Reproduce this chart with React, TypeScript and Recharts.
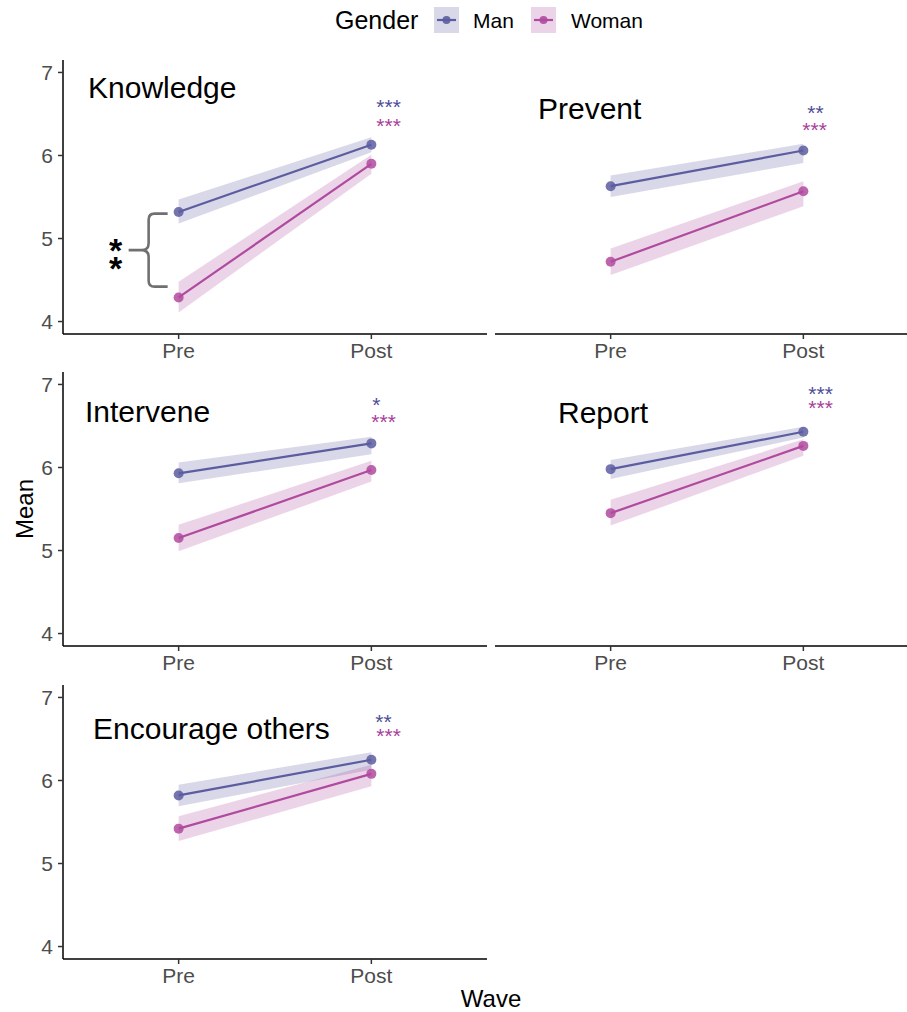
import React from "react";
import { ComposedChart, Line, Area, XAxis, YAxis, ReferenceDot } from "recharts";

// ---------- data ----------
const waves = ["Pre", "Post"];
const facets = ["Knowledge", "Prevent", "Intervene", "Report", "Encourage others"];
const genders = ["Man", "Woman"];
const manPre = [5.32, 5.63, 5.93, 5.98, 5.82];
const manPost = [6.13, 6.06, 6.29, 6.43, 6.25];
const womanPre = [4.29, 4.72, 5.15, 5.45, 5.42];
const womanPost = [5.9, 5.57, 5.97, 6.26, 6.08];
const manPreLo = [5.18, 5.5, 5.81, 5.86, 5.69];
const manPreHi = [5.47, 5.76, 6.06, 6.09, 5.95];
const manPostLo = [6.04, 5.91, 6.16, 6.36, 6.13];
const manPostHi = [6.22, 6.14, 6.37, 6.49, 6.34];
const womanPreLo = [4.11, 4.56, 4.99, 5.3, 5.27];
const womanPreHi = [4.48, 4.88, 5.31, 5.61, 5.57];
const womanPostLo = [5.78, 5.39, 5.83, 6.14, 5.93];
const womanPostHi = [6.01, 5.69, 6.08, 6.34, 6.19];
const manStars = ["***", "**", "*", "***", "**"];
const womanStars = ["***", "***", "***", "***", "***"];
const manStarY = [6.65, 6.57, 6.81, 6.95, 6.77];
const womanStarY = [6.41, 6.37, 6.61, 6.78, 6.59];
const yTicks = [4, 5, 6, 7];
const yDomain = [3.85, 7.15];
const bracketTop = 5.3;
const bracketBottom = 4.42;
const bracketLabel = ["*", "*"];

// ---------- layout / style ----------
const FONT = "'Liberation Sans', Arial, Helvetica, sans-serif";
const MAN = "#5C5CA0";
const WOMAN = "#B04A9F";
const MAN_TXT = "#4E4E96";
const WOMAN_TXT = "#A8409A";
const PLOT_W = 424;
const PLOT_H = 274;
const PX_PER_UNIT = PLOT_H / (yDomain[1] - yDomain[0]);
const PAD = (PLOT_W * 0.6) / 2.2;
const ROW_TOPS = [59.5, 372, 684.5];
const COL2_LEFT = 495;
const TITLE_POS = [
  [88, 98],
  [538, 119],
  [85, 422],
  [558, 423],
  [93, 739],
];
const MAN_STAR_DX = [5, 4, 1, 5, 4];
const WOMAN_STAR_DX = [5, -1, 0, 5, 5];

const starShape = (i: number) => (p: any) => {
  const dyW = (manStarY[i] - womanStarY[i]) * PX_PER_UNIT;
  return (
    <text fontSize={21} fontFamily={FONT} textAnchor="start">
      <tspan x={p.cx + MAN_STAR_DX[i]} y={p.cy + 12} fill={MAN_TXT}>
        {manStars[i]}
      </tspan>
      <tspan x={p.cx + WOMAN_STAR_DX[i]} y={p.cy + 12 + dyW} fill={WOMAN_TXT}>
        {womanStars[i]}
      </tspan>
    </text>
  );
};

const bracketShape = (p: any) => {
  const half = ((bracketTop - bracketBottom) / 2) * PX_PER_UNIT;
  const cx = p.cx;
  const cy = p.cy;
  const top = cy - half;
  const bot = cy + half;
  const sx = cx - 30;
  const d = [
    `M ${cx - 11} ${top} L ${sx + 6} ${top} Q ${sx} ${top} ${sx} ${top + 6}`,
    `L ${sx} ${cy - 7} Q ${sx} ${cy} ${sx - 7} ${cy} L ${cx - 50} ${cy}`,
    `M ${sx - 7} ${cy} Q ${sx} ${cy} ${sx} ${cy + 7} L ${sx} ${bot - 6}`,
    `Q ${sx} ${bot} ${sx + 6} ${bot} L ${cx - 11} ${bot}`,
  ].join(" ");
  return (
    <g>
      <path d={d} fill="none" stroke="#707070" strokeWidth={2.6} strokeLinecap="butt" />
      <text fontSize={34} fontWeight="bold" fontFamily={FONT} textAnchor="middle" fill="#000">
        {bracketLabel.map((s, k) => (
          <tspan key={k} x={cx - 63} y={cy + 12 + k * 18}>
            {s}
          </tspan>
        ))}
      </text>
    </g>
  );
};

function Panel({ i }: { i: number }) {
  const col = i % 2;
  const row = Math.floor(i / 2);
  const data = [
    {
      wave: waves[0],
      man: manPre[i],
      woman: womanPre[i],
      manBand: [manPreLo[i], manPreHi[i]],
      womanBand: [womanPreLo[i], womanPreHi[i]],
    },
    {
      wave: waves[1],
      man: manPost[i],
      woman: womanPost[i],
      manBand: [manPostLo[i], manPostHi[i]],
      womanBand: [womanPostLo[i], womanPostHi[i]],
    },
  ];
  const showY = col === 0;
  const yW = 45;
  const ml = showY ? 18 : 0;
  const mr = showY ? 3 : 0;
  const width = showY ? ml + yW + PLOT_W + mr : PLOT_W;
  const left = showY ? 0 : COL2_LEFT;
  const top = ROW_TOPS[row] - 20;
  return (
    <div style={{ position: "absolute", left, top }}>
      <ComposedChart
        width={width}
        height={340}
        data={data}
        margin={{ top: 20, right: mr, bottom: 6, left: ml }}
      >
        <XAxis
          dataKey="wave"
          type="category"
          scale="point"
          padding={{ left: PAD, right: PAD }}
          axisLine={{ stroke: "#000", strokeWidth: 1.5 }}
          tickLine={{ stroke: "#333", strokeWidth: 1.5 }}
          tickSize={5}
          tickMargin={4}
          tick={{ fill: "#4d4d4d", fontSize: 21, fontFamily: FONT }}
          height={40}
          interval={0}
        />
        <YAxis
          hide={!showY}
          type="number"
          domain={yDomain}
          ticks={yTicks}
          allowDataOverflow
          width={yW}
          axisLine={{ stroke: "#000", strokeWidth: 1.5 }}
          tickLine={{ stroke: "#333", strokeWidth: 1.5 }}
          tickSize={5}
          tickMargin={5}
          tick={{ fill: "#4d4d4d", fontSize: 21, fontFamily: FONT }}
        />
        <Area
          dataKey="manBand"
          type="linear"
          stroke="none"
          fill={MAN}
          fillOpacity={0.24}
          dot={false}
          activeDot={false}
          isAnimationActive={false}
        />
        <Area
          dataKey="womanBand"
          type="linear"
          stroke="none"
          fill={WOMAN}
          fillOpacity={0.24}
          dot={false}
          activeDot={false}
          isAnimationActive={false}
        />
        <Line
          dataKey="man"
          type="linear"
          stroke={MAN}
          strokeWidth={2.2}
          dot={{ r: 5, fill: MAN, fillOpacity: 0.85, stroke: "none" }}
          activeDot={false}
          isAnimationActive={false}
        />
        <Line
          dataKey="woman"
          type="linear"
          stroke={WOMAN}
          strokeWidth={2.2}
          dot={{ r: 5, fill: WOMAN, fillOpacity: 0.85, stroke: "none" }}
          activeDot={false}
          isAnimationActive={false}
        />
        <ReferenceDot x={waves[1]} y={manStarY[i]} r={1} shape={starShape(i)} />
        {i === 0 && (
          <ReferenceDot
            x={waves[0]}
            y={(bracketTop + bracketBottom) / 2}
            r={1}
            shape={bracketShape}
          />
        )}
      </ComposedChart>
    </div>
  );
}

function Overlay() {
  return (
    <svg
      width={907}
      height={1012}
      style={{ position: "absolute", left: 0, top: 0, pointerEvents: "none" }}
    >
      {/* legend */}
      <text x={335} y={29} fontSize={25} fontFamily={FONT} fill="#000">
        Gender
      </text>
      {genders.map((g, k) => {
        const bx = k === 0 ? 434 : 531;
        const tx = k === 0 ? 473 : 571;
        const c = k === 0 ? MAN : WOMAN;
        return (
          <g key={g}>
            <rect x={bx} y={7} width={25} height={26} fill={c} fillOpacity={0.24} />
            <line x1={bx + 3} x2={bx + 22} y1={20} y2={20} stroke={c} strokeWidth={2.2} />
            <circle cx={bx + 12.5} cy={20} r={4} fill={c} fillOpacity={0.9} />
            <text x={tx} y={28} fontSize={21} fontFamily={FONT} fill="#000">
              {g}
            </text>
          </g>
        );
      })}
      {/* facet titles */}
      {facets.map((f, k) => (
        <text
          key={f}
          x={TITLE_POS[k][0]}
          y={TITLE_POS[k][1]}
          fontSize={30}
          fontFamily={FONT}
          fill="#000"
        >
          {f}
        </text>
      ))}
      {/* axis titles */}
      <text
        x={0}
        y={0}
        transform="translate(33,509) rotate(-90)"
        textAnchor="middle"
        fontSize={24}
        fontFamily={FONT}
        fill="#000"
      >
        Mean
      </text>
      <text x={491} y={1007} textAnchor="middle" fontSize={24} fontFamily={FONT} fill="#000">
        Wave
      </text>
    </svg>
  );
}

export default function App() {
  return (
    <div
      style={{
        position: "absolute",
        left: 0,
        top: 0,
        width: 907,
        height: 1012,
        overflow: "hidden",
        background: "#fff",
      }}
    >
      {facets.map((_, i) => (
        <Panel key={i} i={i} />
      ))}
      <Overlay />
    </div>
  );
}
